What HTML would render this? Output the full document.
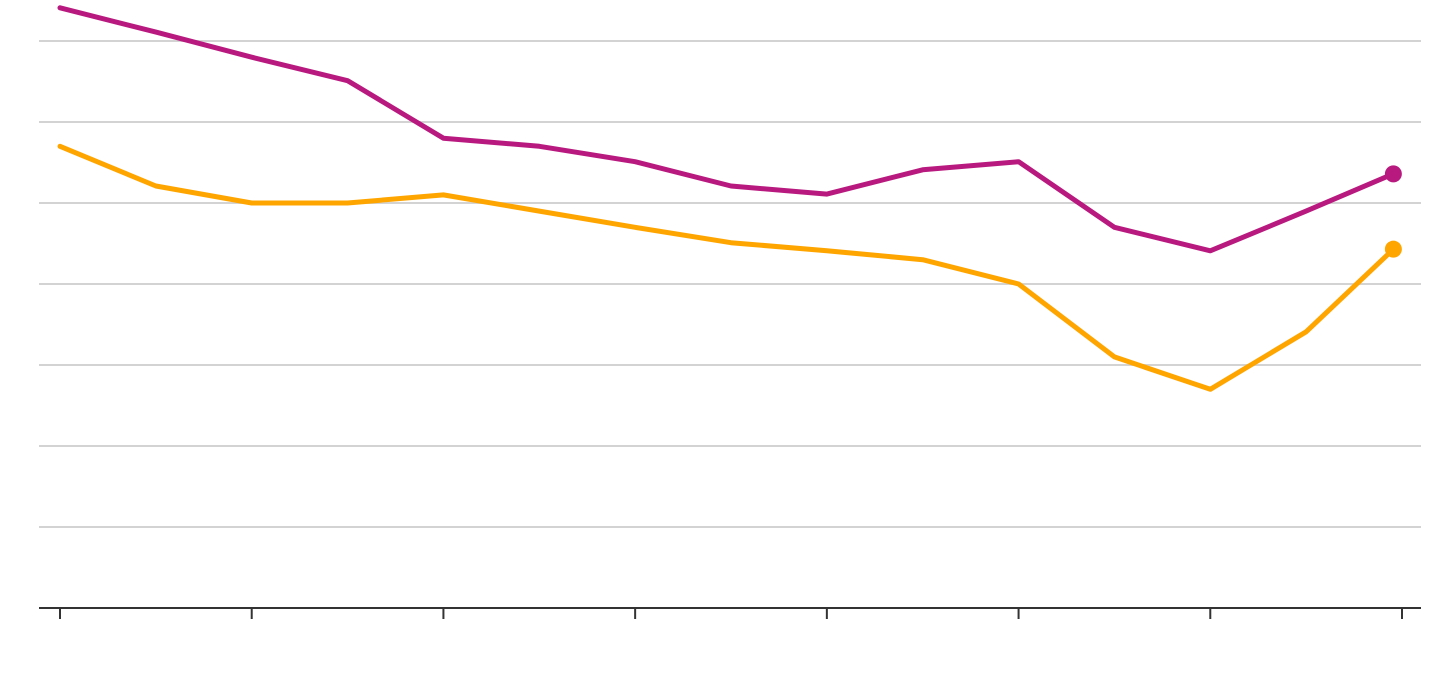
<!DOCTYPE html>
<html><head><meta charset="utf-8">
<style>html,body{margin:0;padding:0;background:#fff;}svg{display:block;font-family:"Liberation Sans",sans-serif;}</style>
</head><body>
<svg id="chart" width="1440" height="674" viewBox="0 0 1440 674"></svg>
<script>
const xIndex = [0,1,2,3,4,5,6,7,8,9,10,11,12,13,13.91];
const purpleSeries = [7.41,7.11,6.80,6.51,5.80,5.70,5.51,5.21,5.11,5.41,5.51,4.70,4.41,4.90,5.36];
const orangeSeries = [5.70,5.21,5.00,5.00,5.10,4.90,4.70,4.51,4.41,4.30,4.00,3.10,2.70,3.41,4.43];
const gridValues = [1,2,3,4,5,6,7];
const tickIndex = [0,2,4,6,8,10,12,14];
const svg = document.getElementById('chart');
const NS = 'http://www.w3.org/2000/svg';
const x = i => 60 + i * (1402 - 60) / 14;
const y = v => 608 - v * 81;
function mk(tag, attrs){const e=document.createElementNS(NS,tag);for(const k in attrs)e.setAttribute(k,attrs[k]);svg.appendChild(e);return e;}
gridValues.forEach(v=>{
  const l=mk('line',{x1:39,x2:1421,y1:y(v),y2:y(v),stroke:'#d3d3d3','stroke-width':2});
  
  
});
const ax=mk('line',{x1:39,x2:1421,y1:608,y2:608,stroke:'#333','stroke-width':2});


tickIndex.forEach(i=>{
  const t=mk('line',{x1:x(i),x2:x(i),y1:608,y2:619,stroke:'#333','stroke-width':2});
  
  
});
function series(vals,color,name){
  const d=vals.map((v,i)=>(i?'L':'M')+x(xIndex[i]).toFixed(1)+','+y(v).toFixed(1)).join(' ');
  const p=mk('path',{d:d,fill:'none',stroke:color,'stroke-width':5,'stroke-linejoin':'round','stroke-linecap':'round'});
  
  
  const n=vals.length-1;
  const c=mk('circle',{cx:x(xIndex[n]),cy:y(vals[n]),r:8.5,fill:color});
  
  
}
series(orangeSeries,'#ffa500','orange-series');
series(purpleSeries,'#b8197e','purple-series');
</script>
</body></html>
